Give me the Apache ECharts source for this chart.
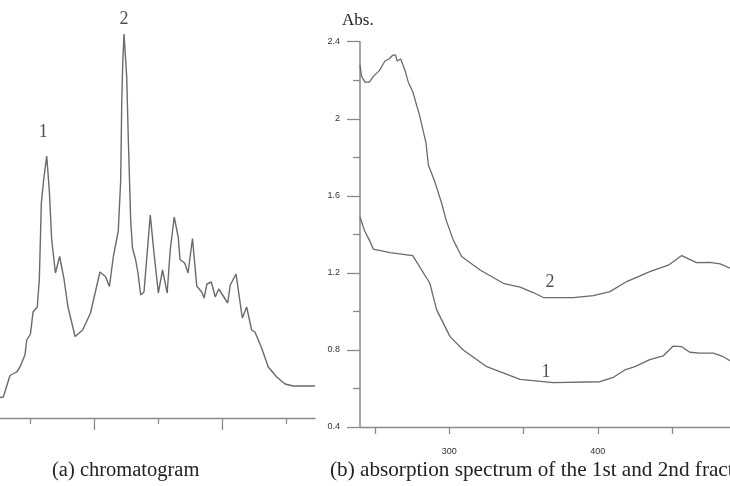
<!DOCTYPE html>
<html>
<head>
<meta charset="utf-8">
<script src="https://cdn.jsdelivr.net/npm/echarts@6/dist/echarts.min.js"></script>
<style>html,body{margin:0;padding:0;background:#fff;}#c{width:730px;height:486px;}</style>
</head>
<body>
<div id="c"></div>
<script>
// (a) chromatogram: retention time (arbitrary min) vs detector response (arbitrary units)
const chromTime = [2.66,2.92,3.44,3.96,4.22,4.61,4.75,5.04,5.24,5.57,5.73,5.89,6.07,6.31,6.51,6.70,6.99,7.32,7.66,7.97,8.53,9.12,9.73,10.47,10.90,11.21,11.51,11.90,12.09,12.17,12.25,12.35,12.56,12.68,12.87,13.01,13.26,13.44,13.65,13.91,14.40,14.69,15.03,15.36,15.72,15.96,16.27,16.59,16.72,17.09,17.35,17.70,18.03,18.42,18.60,18.83,19.17,19.48,19.75,20.45,20.65,21.10,21.59,21.93,22.32,22.58,23.10,23.62,24.28,24.93,25.57,27.27];
const chromSignal = [20.5,21,42.5,46,51,63,78,84,106,111,138,215,238,262,228,178,145,161.5,139,111,81.5,88,105,146,141.5,131.5,161,187,238,315,355,384,341,281,198,170,158,145,123,126,203,165,125,148,125,168,201,180.5,158.5,155,145,179.5,132,126,120,134,136,121,129,115,133,144,100,111,88,86,70,51,41,34,32,32];
const chromMajorTicks = [10, 20];
const chromMinorTicks = [5, 15, 25];
const chromPeakLabels = [['1', 6.04, 286], ['2', 12.35, 399]];

// (b) absorption spectra: wavelength (nm) vs absorbance
const spec2 = [[240,2.28],[241,2.22],[243.4,2.19],[246.3,2.19],[249,2.22],[253,2.25],[256.8,2.30],[259.5,2.31],[262,2.33],[264,2.33],[265,2.30],[267.4,2.31],[270.3,2.25],[272.5,2.19],[275.5,2.14],[280,2.02],[284.4,1.875],[286,1.76],[290.5,1.67],[295,1.56],[297.9,1.475],[302.8,1.37],[308.4,1.285],[320.8,1.215],[336.4,1.146],[347.7,1.126],[356.6,1.098],[363.4,1.072],[383.6,1.072],[397,1.082],[408.2,1.103],[419.5,1.155],[435,1.207],[447.5,1.24],[456.5,1.29],[466.5,1.253],[475.5,1.255],[482.3,1.247],[489,1.224]];
const spec1 = [[240,1.49],[243,1.42],[246.3,1.37],[249,1.323],[260.2,1.305],[275.5,1.29],[287,1.146],[291.6,1.008],[300.6,0.869],[309.5,0.80],[325.3,0.713],[347.7,0.647],[370,0.63],[401.5,0.635],[410.5,0.658],[418.3,0.696],[425,0.713],[435,0.75],[444,0.769],[450.8,0.82],[456.5,0.817],[462,0.788],[468.8,0.783],[477.8,0.783],[484.5,0.765],[489,0.744]];
const specXTicks = [250, 300, 350, 400, 450];
const specXLabels = [300, 400];
const specPeakLabels = [['2', 367.9, 1.153], ['1', 365.2, 0.686]];

const captions = ['(a) chromatogram', '(b) absorption spectrum of the 1st and 2nd fractions'];

const serif = 'Liberation Serif';
const lineColor = '#6a6a6a';
const axisColor = '#8a8a8a';

const chart = echarts.init(document.getElementById('c'), null, {renderer: 'canvas'});
const labelSeries = (arr, xi, yi) => ({
  type: 'scatter', xAxisIndex: xi, yAxisIndex: yi, symbolSize: 0, silent: true,
  data: arr.map(d => ({value: [d[1], d[2]], name: d[0]})),
  label: {show: true, position: 'inside', formatter: p => p.name,
          fontFamily: serif, fontSize: 18, color: '#222'}
});

chart.setOption({
  animation: false,
  backgroundColor: '#fff',
  title: [
    {text: captions[0], left: 47, top: 455, textStyle: {fontFamily: serif, fontSize: 20.5, fontWeight: 'normal', color: '#222'}},
    {text: captions[1], left: 325, top: 455, textStyle: {fontFamily: serif, fontSize: 21.2, fontWeight: 'normal', color: '#222'}},
    {text: 'Abs.', left: 337, top: 7, textStyle: {fontFamily: serif, fontSize: 17, fontWeight: 'normal', color: '#222'}}
  ],
  grid: [
    {left: 0, right: 415, top: 18, bottom: 68},
    {left: 360, right: 0, top: 41.7, bottom: 59}
  ],
  xAxis: [
    {type: 'value', gridIndex: 0, min: 2.66, max: 27.27, position: 'bottom',
     axisLine: {show: true, onZero: false, lineStyle: {color: axisColor, width: 1.3}},
     axisTick: {show: true, customValues: chromMajorTicks, length: 12, lineStyle: {color: axisColor, width: 1.3}},
     axisLabel: {show: false}, splitLine: {show: false}},
    {type: 'value', gridIndex: 0, min: 2.66, max: 27.27, position: 'bottom',
     axisLine: {show: false},
     axisTick: {show: true, customValues: chromMinorTicks, length: 6, lineStyle: {color: axisColor, width: 1.3}},
     axisLabel: {show: false}, splitLine: {show: false}},
    {type: 'value', gridIndex: 1, min: 240, max: 489, position: 'bottom',
     axisLine: {show: true, onZero: false, lineStyle: {color: axisColor, width: 1.3}},
     axisTick: {show: true, customValues: specXTicks, length: 7, lineStyle: {color: axisColor, width: 1.3}},
     axisLabel: {show: true, customValues: specXLabels, margin: 20, fontFamily: 'Liberation Sans', fontSize: 9, color: '#333'},
     splitLine: {show: false}}
  ],
  yAxis: [
    {type: 'value', gridIndex: 0, min: 0, max: 400, show: false},
    {type: 'value', gridIndex: 1, min: 0.4, max: 2.4, interval: 0.4,
     axisLine: {show: true, onZero: false, lineStyle: {color: axisColor, width: 1.5}},
     axisTick: {show: true, length: 13, lineStyle: {color: axisColor, width: 1.3}},
     minorTick: {show: true, splitNumber: 2, length: 7, lineStyle: {color: axisColor, width: 1.3}},
     axisLabel: {margin: 20, fontFamily: 'Liberation Sans', fontSize: 9, color: '#333'},
     splitLine: {show: false}, minorSplitLine: {show: false}}
  ],
  series: [
    {type: 'line', xAxisIndex: 0, yAxisIndex: 0, showSymbol: false, silent: true,
     data: chromTime.map((t, i) => [t, chromSignal[i]]),
     lineStyle: {color: lineColor, width: 1.4}},
    {type: 'line', xAxisIndex: 2, yAxisIndex: 1, showSymbol: false, silent: true,
     data: spec2, lineStyle: {color: lineColor, width: 1.3}},
    {type: 'line', xAxisIndex: 2, yAxisIndex: 1, showSymbol: false, silent: true,
     data: spec1, lineStyle: {color: lineColor, width: 1.3}},
    labelSeries(chromPeakLabels, 0, 0),
    labelSeries(specPeakLabels, 2, 1)
  ]
});
</script>
</body>
</html>
